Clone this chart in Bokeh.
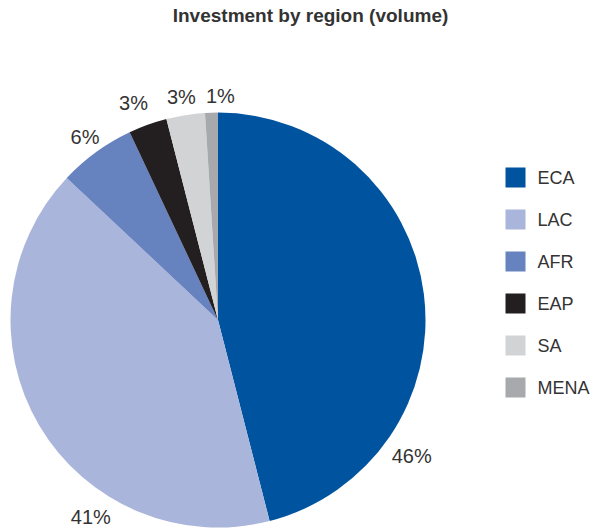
import math
from bokeh.plotting import figure
from bokeh.models import Range1d
from bokeh.core.properties import value
from bokeh.embed import file_html
from bokeh.resources import INLINE

# ---- data ----
regions = ["ECA", "LAC", "AFR", "EAP", "SA", "MENA"]
shares = [46, 41, 6, 3, 3, 1]
labels = ["46%", "41%", "6%", "3%", "3%", "1%"]
colors = ["#00539F", "#A9B5DA", "#6682BF", "#231F20", "#D1D3D4", "#A7A9AC"]

# ---- layout ----
W, H = 591, 529
CX, CY, R = 217.5, H - 319.5, 207.5
label_frac = [0.755, 0.32, 0.5, 0.36, 0.47, 1.17]   # position of label along slice
label_rfac = [1.14, 1.13, 1.09, 1.12, 1.09, 1.08]
FONT = "Liberation Sans"

p = figure(width=W, height=H, output_backend="svg", toolbar_location=None,
           x_range=Range1d(0, W), y_range=Range1d(0, H),
           min_border=0, outline_line_color=None)
p.axis.visible = False
p.grid.visible = False
p.background_fill_color = "white"
p.border_fill_color = "white"

total = float(sum(shares))
starts, ends, lx, ly = [], [], [], []
cum = 0.0
for v, f, rf in zip(shares, label_frac, label_rfac):
    a0 = math.pi / 2 - 2 * math.pi * cum / total
    a1 = a0 - 2 * math.pi * v / total
    starts.append(a0)
    ends.append(a1)
    am = a0 - (a0 - a1) * f
    lx.append(CX + R * rf * math.cos(am))
    ly.append(CY + R * rf * math.sin(am))
    cum += v

p.wedge(x=CX, y=CY, radius=R, start_angle=starts, end_angle=ends,
        direction="clock", fill_color=colors, line_color=None)

p.text(x=lx, y=ly, text=labels, text_align="center", text_baseline="middle",
       text_font=value(FONT), text_font_size="20px", text_color="#333333")

# title
p.text(x=[310], y=[H - 15], text=["Investment by region (volume)"],
       text_align="center", text_baseline="middle", text_font=value(FONT),
       text_font_style="bold", text_font_size="19px", text_color="#333333")

# legend
ley = [H - (177 + 42 * i) for i in range(len(regions))]
p.scatter(x=[515] * len(regions), y=ley, marker="square", size=20,
          fill_color=colors, line_color=None)
p.text(x=[537] * len(regions), y=ley, text=regions, text_align="left",
       text_baseline="middle", text_font=value(FONT), text_font_size="18px",
       text_color="#333333")

open("out.html", "w").write(file_html(p, INLINE))
